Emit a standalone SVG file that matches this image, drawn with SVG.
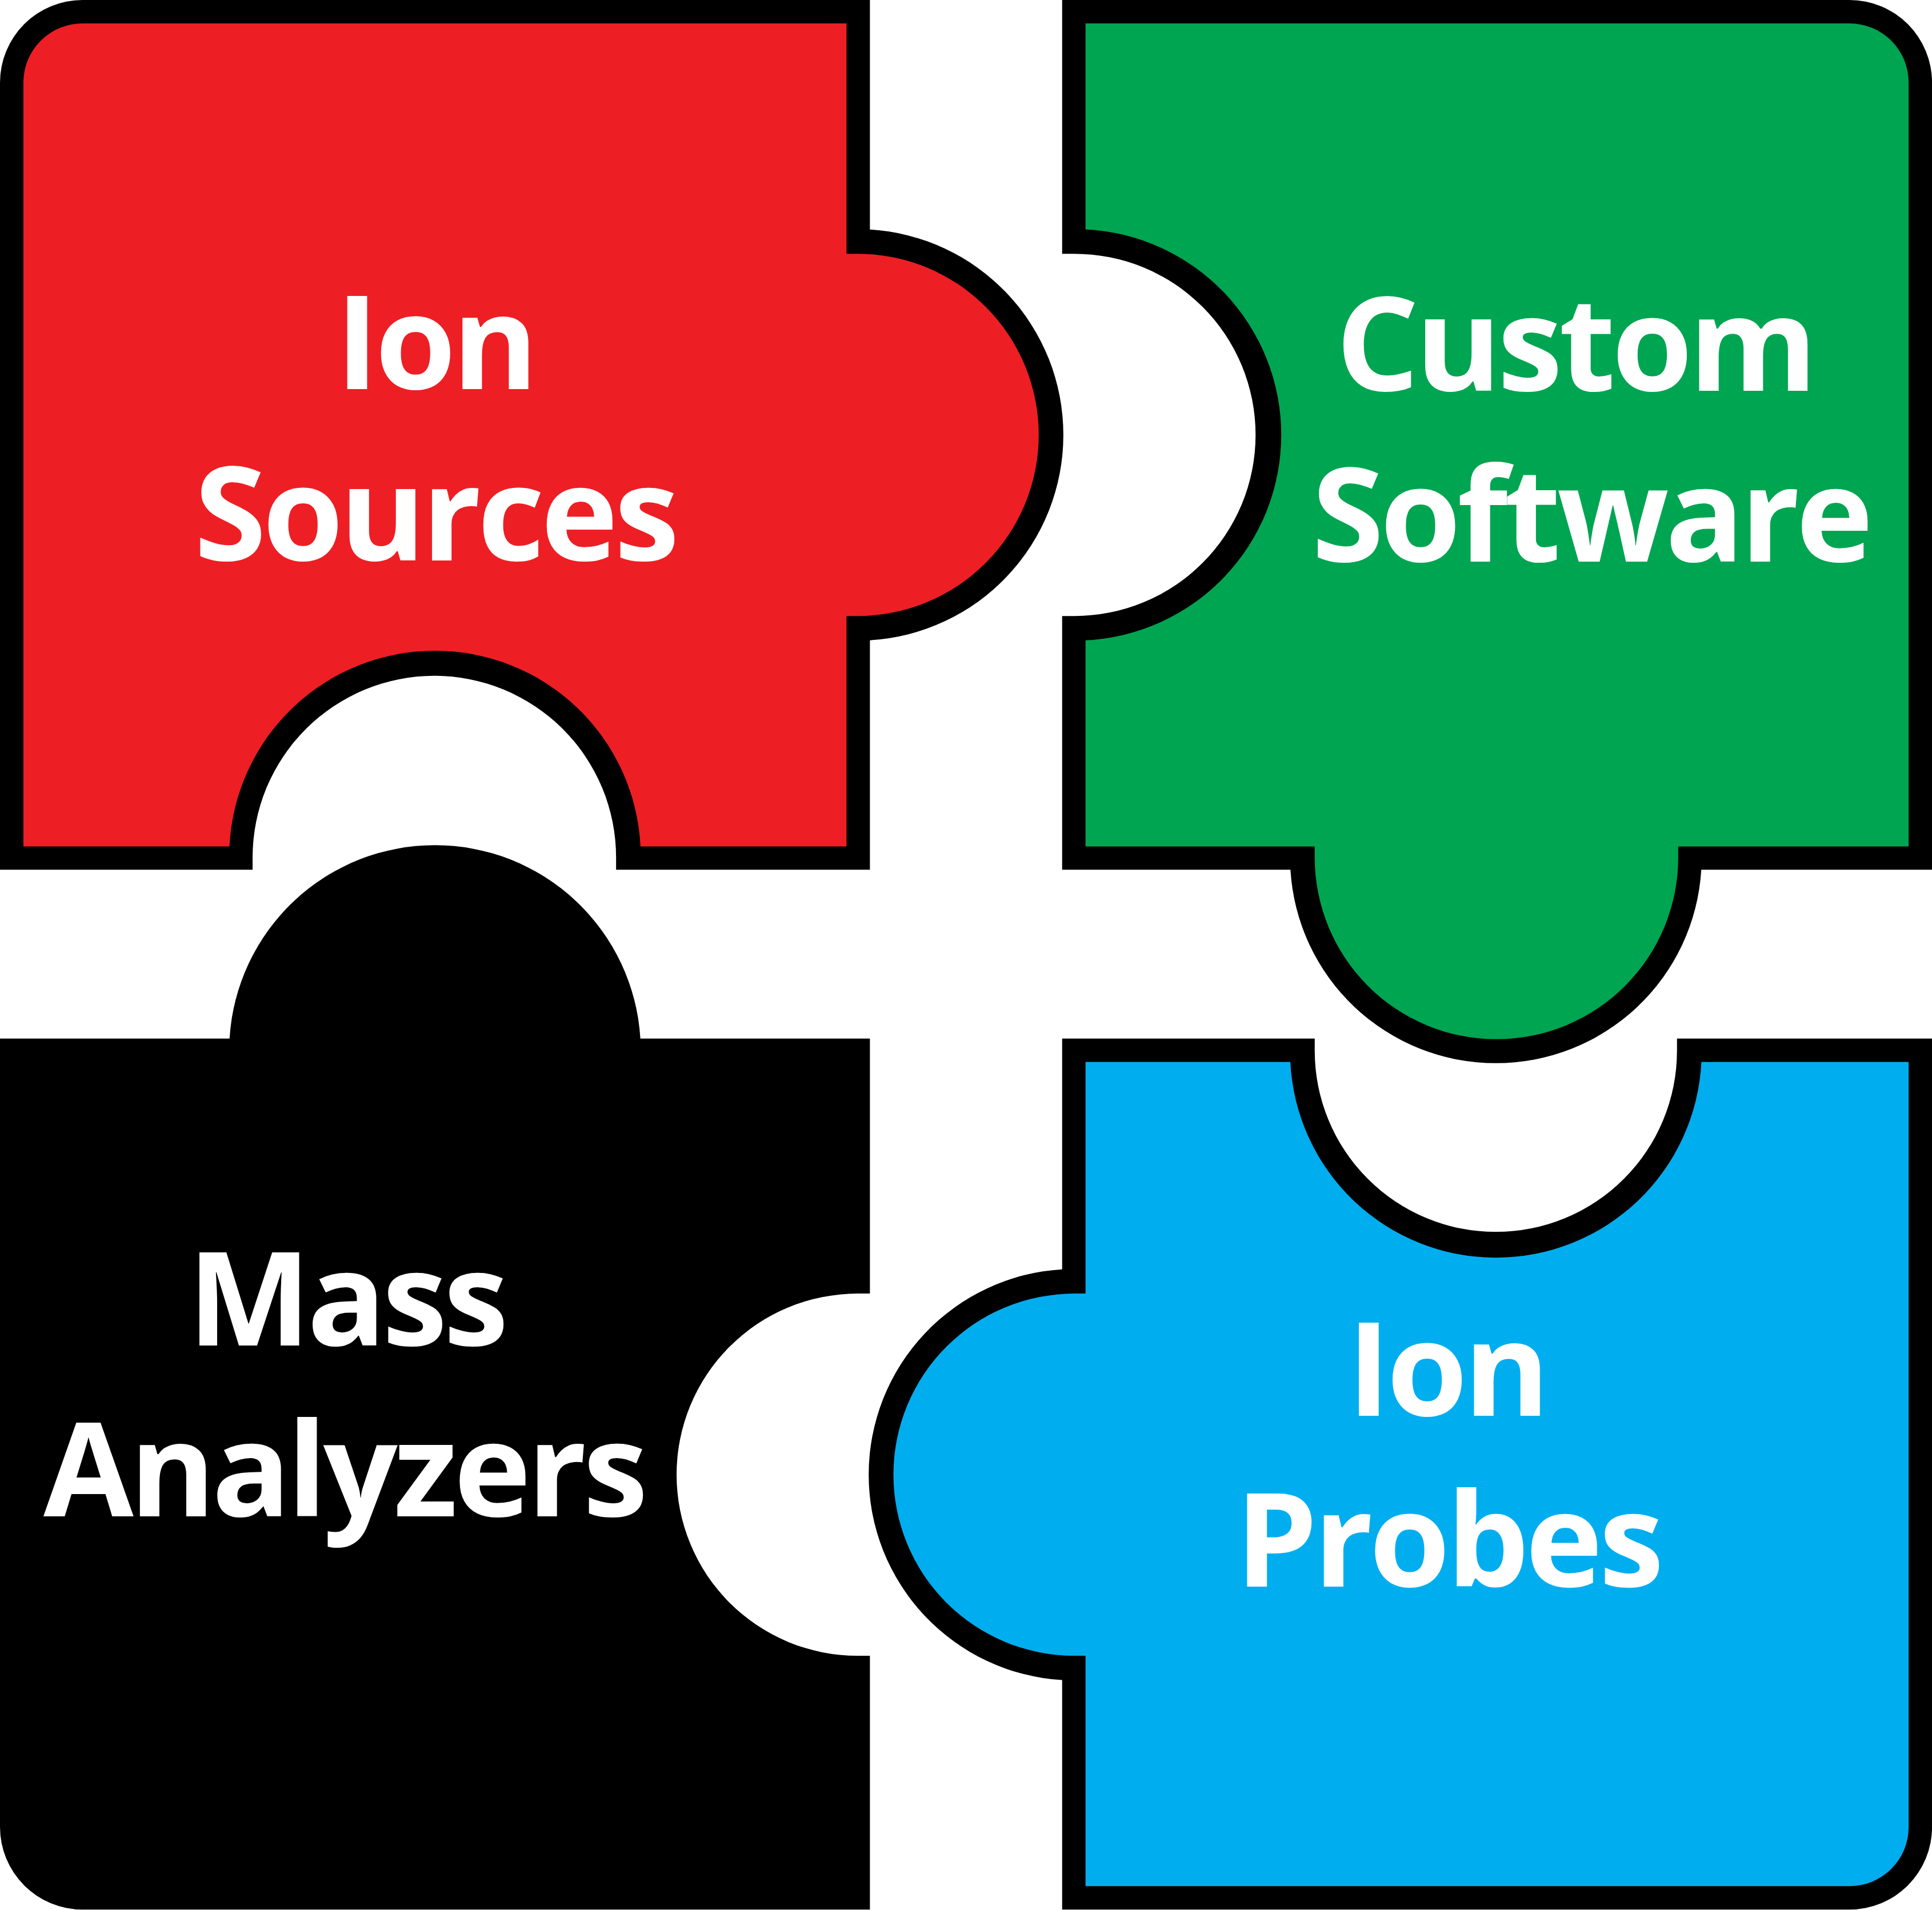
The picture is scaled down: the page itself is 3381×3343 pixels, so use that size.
<svg xmlns="http://www.w3.org/2000/svg" width="3381" height="3343" viewBox="0 0 3381 3343">
<style>
.b{fill:#000}
.t{font-family:"Open Sans","Liberation Sans",sans-serif;font-weight:700;font-size:106px;fill:#fff;text-anchor:middle;letter-spacing:-3px}
</style>
<rect width="3381" height="3343" fill="#fff"/>
<g transform="scale(2.1563)">
<g id="ion-sources">
<path class="b" d="M0,67 A67,67 0 0 1 67,0 L706,0 L706,186.3 A167,167 0 0 1 706,519.7 L706,706 L500,706 L500,696 A147.5,147.5 0 0 0 205,696 L205,706 L0,706 Z"/>
<path fill="#ED1F24" d="M19,67 A48,48 0 0 1 67,19 L687,19 L687,206 L696,206 A147,147 0 0 1 696,500 L687,500 L687,687 L519.8,687 A167,167 0 0 0 186.2,687 L19,687 Z"/>
<text class="t" x="353" y="316">Ion</text>
<text class="t" x="353" y="455">Sources</text>
</g>
<g id="custom-software">
<path class="b" d="M862,0 L1501,0 A67,67 0 0 1 1568,67 L1568,706 L1380.7,706 A167,167 0 0 1 1047.3,706 L862,706 L862,500 L872,500 A147,147 0 0 0 872,206 L862,206 Z"/>
<path fill="#00A551" d="M881,19 L1501,19 A48,48 0 0 1 1549,67 L1549,687 L1362,687 L1362,696 A147,147 0 0 1 1067,696 L1067,687 L881,687 L881,519.8 A167,167 0 0 0 881,186.2 Z"/>
<text class="t" x="1278" y="317">Custom</text>
<text class="t" x="1291" y="456">Software</text>
</g>
<g id="mass-analyzers">
<path class="b" d="M0,843 L186.3,843 A167,167 0 0 1 519.7,843 L706,843 L706,1050 L696,1050 A147,147 0 0 0 696,1344 L706,1344 L706,1550 L67,1550 A67,67 0 0 1 0,1483 Z"/>
<text class="t" x="281" y="1092">Mass</text>
<text class="t" x="279" y="1231">Analyzers</text>
</g>
<g id="ion-probes">
<path class="b" d="M862,843 L1067,843 L1067,853 A147,147 0 0 0 1361,853 L1361,843 L1568,843 L1568,1483 A67,67 0 0 1 1501,1550 L862,1550 L862,1363.7 A167,167 0 0 1 862,1030.3 Z"/>
<path fill="#00AEEF" d="M881,862 L1047.2,862 A167,167 0 0 0 1380.8,862 L1549,862 L1549,1483 A48,48 0 0 1 1501,1531 L881,1531 L881,1344 L872,1344 A147,147 0 0 1 872,1050 L881,1050 Z"/>
<text class="t" x="1174" y="1149">Ion</text>
<text class="t" x="1175" y="1288">Probes</text>
</g>
<g id="connectors"/>
</g>
</svg>
